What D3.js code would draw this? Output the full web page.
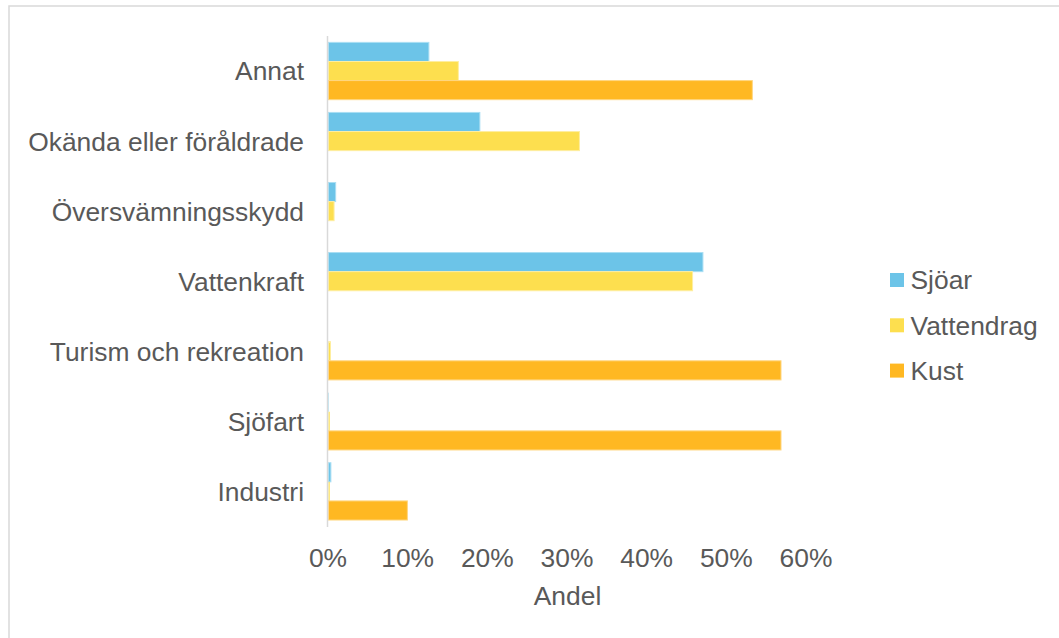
<!DOCTYPE html>
<html><head><meta charset="utf-8">
<script src="https://cdn.jsdelivr.net/npm/d3@7"></script>
<style>html,body{margin:0;padding:0;background:#fff;}svg{display:block;}</style>
</head><body>
<script>
const categories = ["Annat","Okända eller föråldrade","Översvämningsskydd","Vattenkraft","Turism och rekreation","Sjöfart","Industri"];
const seriesNames = ["Sjöar","Vattendrag","Kust"];
const sjoar      = [0.126, 0.190, 0.009, 0.470, 0.000, 0.0005, 0.003];
const vattendrag = [0.163, 0.315, 0.007, 0.457, 0.0025, 0.0015, 0.0015];
const kust       = [0.532, 0.000, 0.000, 0.000, 0.568, 0.568, 0.099];
const xTicks = [0, 0.1, 0.2, 0.3, 0.4, 0.5, 0.6];
const axisTitle = "Andel";

const colors = ["#6CC4E8", "#FDDF4F", "#FFB822"];
const strokes = ["#a9def3", "#feeea0", "#ffd680"];
const values = [sjoar, vattendrag, kust];
const W = 1059, H = 638;
const font = "'Liberation Sans', Arial, sans-serif";
const textColor = "#595959";
const fs = 26.4;

const svg = d3.select("body").append("svg").attr("width", W).attr("height", H);
svg.append("rect").attr("x", 9).attr("y", 6).attr("width", W + 20).attr("height", H + 20)
  .attr("fill", "#fff").attr("stroke", "#d9d9d9").attr("stroke-width", 1.5);

const x = d3.scaleLinear().domain([0, 0.6]).range([328.5, 806.5]);
const y = d3.scaleBand().domain(categories).range([36, 526.4]).paddingInner(0).paddingOuter(0);
const bh = 19.1;
const inner = d3.scaleBand().domain(seriesNames).range([0, bh * 3]);
const off = (y.bandwidth() - bh * 3) / 2;

seriesNames.forEach((s, si) => {
  svg.append("g").selectAll("rect").data(categories.map((c, i) => ({c, v: values[si][i]})))
    .join("rect")
    .attr("x", x(0))
    .attr("y", d => y(d.c) + off + inner(s))
    .attr("width", d => Math.max(0, x(d.v) - x(0)))
    .attr("height", bh)
    .attr("fill", colors[si])
    .attr("stroke", d => d.v > 0.002 ? strokes[si] : "none")
    .attr("stroke-width", 1);
});

// vertical axis line
svg.append("line").attr("x1", 327.5).attr("x2", 327.5).attr("y1", 36).attr("y2", 527)
  .attr("stroke", "#d9d9d9").attr("stroke-width", 1.5);

// category labels
svg.append("g").selectAll("text").data(categories).join("text")
  .attr("x", 304).attr("y", d => y(d) + y.bandwidth() / 2 + fs * 0.358)
  .attr("text-anchor", "end").attr("font-family", font).attr("font-size", fs)
  .attr("fill", textColor).text(d => d);

// x tick labels
svg.append("g").selectAll("text").data(xTicks).join("text")
  .attr("x", d => x(d) - 0.5).attr("y", 567)
  .attr("text-anchor", "middle").attr("font-family", font).attr("font-size", fs)
  .attr("fill", textColor).text(d3.format(".0%"));

svg.append("text").attr("x", 567.5).attr("y", 605).attr("text-anchor", "middle")
  .attr("font-family", font).attr("font-size", fs).attr("fill", textColor).text(axisTitle);

// legend
const lg = svg.append("g");
seriesNames.forEach((s, i) => {
  const cy = 280 + i * 45.3;
  lg.append("rect").attr("x", 890).attr("y", cy - 7).attr("width", 14).attr("height", 14).attr("fill", colors[i]);
  lg.append("text").attr("x", 910.5).attr("y", cy + fs * 0.358).attr("font-family", font)
    .attr("font-size", fs).attr("fill", textColor).text(s);
});
</script>
</body></html>
